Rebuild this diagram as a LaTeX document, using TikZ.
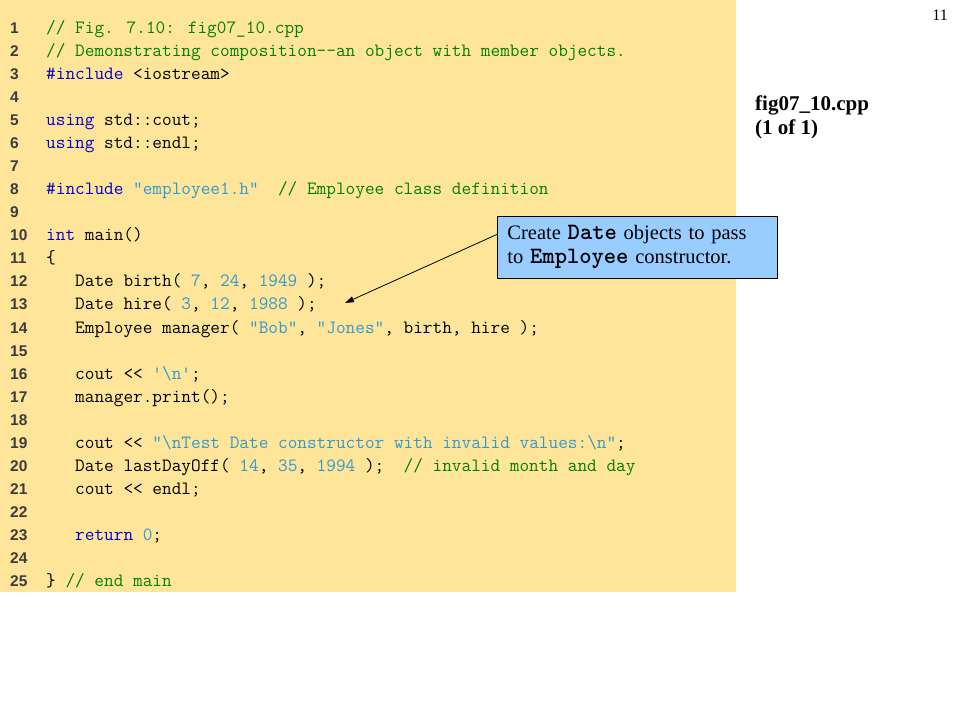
\documentclass[tikz,border=0pt]{standalone}
\usepackage{fontspec}
\setmainfont{Liberation Serif}
\newfontfamily\numfont{Liberation Sans}
\usepackage{tikz}
\usetikzlibrary{arrows.meta}

\definecolor{slideyellow}{RGB}{255,229,153}
\definecolor{calloutblue}{RGB}{153,204,255}
\definecolor{kwblue}{RGB}{0,0,204}
\definecolor{cmtgreen}{RGB}{0,128,0}
\definecolor{litblue}{RGB}{51,153,204}
\definecolor{numgray}{RGB}{60,60,60}

\newcommand{\kw}[1]{\textcolor{kwblue}{#1}}
\newcommand{\cmt}[1]{\textcolor{cmtgreen}{#1}}
\newcommand{\lit}[1]{\textcolor{litblue}{#1}}
\newcommand{\boldcode}[1]{{\ttfamily\bfseries\fontsize{23.4}{24}\selectfont #1}}

\begin{document}
\begin{tikzpicture}[x=1pt,y=-1pt,
	code/.style={anchor=base west,inner sep=0pt,font=\ttfamily\fontsize{18.76}{20}\selectfont},
	lineno/.style={anchor=base west,inner sep=0pt,text=numgray,font=\numfont\bfseries\fontsize{15.5}{18}\selectfont},
	callout/.style={draw=black,fill=calloutblue,line width=0.8pt,anchor=north west,minimum width=280pt,minimum height=62pt,text width=260pt,inner xsep=10pt,align=left,font=\fontsize{20.5}{24}\selectfont},
	side/.style={anchor=base west,inner sep=0pt,font=\bfseries\fontsize{21}{24}\selectfont},
	pointer/.style={-{Triangle[length=9pt,width=6pt]},line width=0.8pt}]
	\useasboundingbox (0,0) rectangle (960,720);
	
	%BACKGROUND
	\fill[slideyellow] (0,0) rectangle (736,592);
	
	%LINE NUMBERS
	\foreach \n in {1,...,25}
		\node[lineno] (n\n) at (10,33.5+23.04*\n-23.04) {\n};
	
	%CODE
	\node[code] (c1) at (46,33.5+23.04*0) {\cmt{// Fig. 7.10: fig07\_10.cpp}};
	\node[code] (c2) at (46,33.5+23.04*1) {\cmt{// Demonstrating composition-{}-an object with member objects.}};
	\node[code] (c3) at (46,33.5+23.04*2) {\kw{\#include} <iostream>};
	\node[code] (c5) at (46,33.5+23.04*4) {\kw{using} std::cout;};
	\node[code] (c6) at (46,33.5+23.04*5) {\kw{using} std::endl;};
	\node[code] (c8) at (46,33.5+23.04*7) {\kw{\#include} \lit{"employee1.h"}\ \ \cmt{// Employee class definition}};
	\node[code] (c10) at (46,33.5+23.04*9) {\kw{int} main()};
	\node[code] (c11) at (46,33.5+23.04*10) {\{};
	\node[code] (c12) at (75,33.5+23.04*11) {Date birth( \lit{7}, \lit{24}, \lit{1949} );};
	\node[code] (c13) at (75,33.5+23.04*12) {Date hire( \lit{3}, \lit{12}, \lit{1988} );};
	\node[code] (c14) at (75,33.5+23.04*13) {Employee manager( \lit{"Bob"}, \lit{"Jones"}, birth, hire );};
	\node[code] (c16) at (75,33.5+23.04*15) {cout <{}< \lit{\textquotesingle\textbackslash n\textquotesingle};};
	\node[code] (c17) at (75,33.5+23.04*16) {manager.print();};
	\node[code] (c19) at (75,33.5+23.04*18) {cout <{}< \lit{"\textbackslash nTest Date constructor with invalid values:\textbackslash n"};};
	\node[code] (c20) at (75,33.5+23.04*19) {Date lastDayOff( \lit{14}, \lit{35}, \lit{1994} );\ \ \cmt{// invalid month and day}};
	\node[code] (c21) at (75,33.5+23.04*20) {cout <{}< endl;};
	\node[code] (c23) at (75,33.5+23.04*22) {\kw{return} \lit{0};};
	\node[code] (c25) at (46,33.5+23.04*24) {\} \cmt{// end main}};
	
	%SIDE LABELS
	\node[anchor=base east,inner sep=0pt,font=\fontsize{16}{18}\selectfont] (page) at (948,20) {11};
	\node[side] (file) at (755,110) {fig07\_10.cpp};
	\node[side] (part) at (755,134) {(1 of 1)};
	
	%CALLOUT
	\node[callout] (callout) at (497,216) {Create \boldcode{Date} objects to pass\\to \boldcode{Employee} constructor.};
	\coordinate (hiretip) at (345,303);
	\draw[pointer] ([yshift=13pt]callout.west) -- (hiretip);
\end{tikzpicture}
\end{document}
